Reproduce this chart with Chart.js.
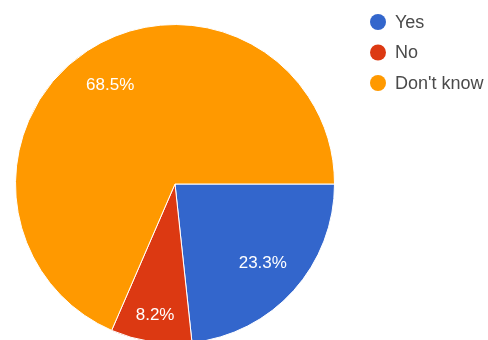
<!DOCTYPE html>
<html>
<head>
<meta charset="utf-8">
<script src="https://cdn.jsdelivr.net/npm/chart.js@4/dist/chart.umd.min.js"></script>
<style>
html,body{margin:0;padding:0;background:#fff;overflow:hidden;width:488px;height:340px;}
#wrap{position:relative;width:488px;height:350px;}
</style>
</head>
<body>
<div id="wrap"><canvas id="c" width="488" height="350"></canvas></div>
<script>
const categories = ["Yes", "No", "Don't know"];
const values = [23.3, 8.2, 68.5];
const labelsText = ["23.3%", "8.2%", "68.5%"];
const colors = ["#3366cc", "#dc3912", "#ff9900"];

const sliceLabels = {
  id: 'sliceLabels',
  afterDatasetsDraw(chart) {
    const ctx = chart.ctx;
    const meta = chart.getDatasetMeta(0);
    ctx.save();
    ctx.fillStyle = '#ffffff';
    ctx.font = '17px Arial, "Liberation Sans", sans-serif';
    ctx.textAlign = 'center';
    ctx.textBaseline = 'middle';
    const fr = [0.74, 0.83, 0.74];
    meta.data.forEach((arc, i) => {
      const p = arc.getProps(['x','y','startAngle','endAngle','outerRadius'], true);
      const mid = (p.startAngle + p.endAngle) / 2;
      const r = p.outerRadius * fr[i];
      ctx.fillText(labelsText[i], p.x + Math.cos(mid) * r, p.y + Math.sin(mid) * r);
    });
    ctx.restore();
  }
};

const sideLegend = {
  id: 'sideLegend',
  afterDraw(chart) {
    const ctx = chart.ctx;
    ctx.save();
    ctx.font = '18px Arial, "Liberation Sans", sans-serif';
    ctx.textBaseline = 'middle';
    ctx.textAlign = 'left';
    chart.data.labels.forEach((lab, i) => {
      const y = 22 + i * 30.5;
      ctx.beginPath();
      ctx.arc(378, y, 8, 0, Math.PI * 2);
      ctx.fillStyle = chart.data.datasets[0].backgroundColor[i];
      ctx.fill();
      ctx.fillStyle = '#4a4a4a';
      ctx.fillText(lab, 395, y + 1);
    });
    ctx.restore();
  }
};

new Chart(document.getElementById('c'), {
  type: 'pie',
  data: {
    labels: categories,
    datasets: [{
      data: values,
      backgroundColor: colors,
      borderColor: '#ffffff',
      borderWidth: 1
    }]
  },
  options: {
    responsive: false,
    animation: false,
    rotation: 90,
    layout: { padding: { left: 15, top: 24, right: 153, bottom: 6 } },
    plugins: { legend: { display: false }, tooltip: { enabled: false } }
  },
  plugins: [sliceLabels, sideLegend]
});
</script>
</body>
</html>
